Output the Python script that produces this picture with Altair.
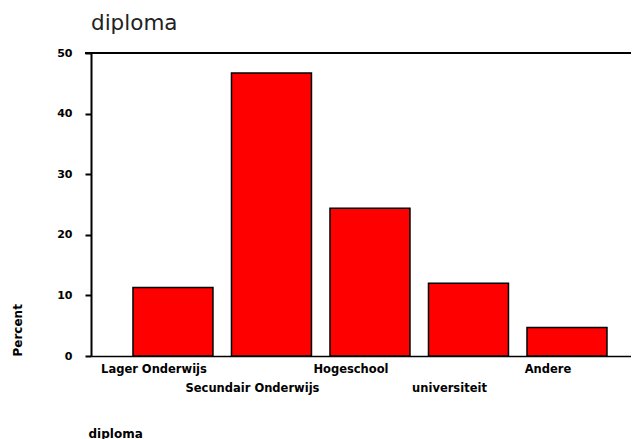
import altair as alt
import pandas as pd

categories = ["Lager Onderwijs", "Secundair Onderwijs", "Hogeschool", "universiteit", "Andere"]
percent = [11.3, 46.7, 24.4, 12.0, 4.7]
y_ticks = [0, 10, 20, 30, 40, 50]

df = pd.DataFrame({"diploma": categories, "percent": percent})

W, H = 540, 303
FONT = "DejaVu Sans"

x_enc = alt.X(
    "diploma:N",
    sort=categories,
    scale=alt.Scale(paddingInner=0.188, paddingOuter=0.335, align=0.636),
    axis=alt.Axis(
        labels=False, ticks=False, domainColor="black", domainWidth=1.5,
        title="diploma", titleAnchor="start", titleX=-3, titleY=77,
        titleAlign="left", titleBaseline="middle", titleFont=FONT,
        titleFontWeight="bold", titleFontSize=12, titleColor="black",
    ),
)

base = alt.Chart(df).encode(x=x_enc)

bars = base.mark_bar(color="#ff0000", stroke="black", strokeWidth=1.5).encode(
    y=alt.Y(
        "percent:Q",
        scale=alt.Scale(domain=[0, 50], nice=False),
        axis=alt.Axis(
            values=y_ticks, grid=False, domainColor="black", domainWidth=2,
            tickColor="black", tickSize=6, tickWidth=2, labelPadding=13,
            labelFont=FONT, labelFontWeight="bold", labelFontSize=11, labelColor="black",
            title="Percent", titleX=-74, titleY=H, titleAlign="left", titleBaseline="middle",
            titleFont=FONT, titleFontWeight="bold", titleFontSize=12, titleColor="black",
        ),
    )
)

top_line = alt.Chart(df).mark_rule(color="black", strokeWidth=1.5).encode(
    y=alt.datum(50), x=alt.value(-6), x2=alt.value(W)
)

label_style = dict(align="center", baseline="middle", font=FONT, fontWeight="bold",
                   fontSize=11.5, color="black", dx=-19)

idx_expr = "indexof(" + str(categories).replace("'", '"') + ", datum.diploma) % 2"

labels_row0 = base.mark_text(dy=14, **label_style).encode(
    y=alt.value(H), text="diploma:N"
).transform_filter(idx_expr + " == 0")

labels_row1 = base.mark_text(dy=33, **label_style).encode(
    y=alt.value(H), text="diploma:N"
).transform_filter(idx_expr + " == 1")

chart = alt.layer(bars, top_line, labels_row0, labels_row1).properties(
    width=W, height=H,
    title=alt.TitleParams("diploma", anchor="start", frame="group", font=FONT, fontSize=21.5,
                          fontWeight="normal", color="#222222", baseline="bottom",
                          offset=14, dy=23),
    autosize=alt.AutoSizeParams(type="none"),
    padding={"left": 83, "top": 45, "right": 0, "bottom": 86},
).configure_view(stroke=None).configure(background="white")

chart.save("out.html", embed_options={"renderer": "svg", "actions": False})
